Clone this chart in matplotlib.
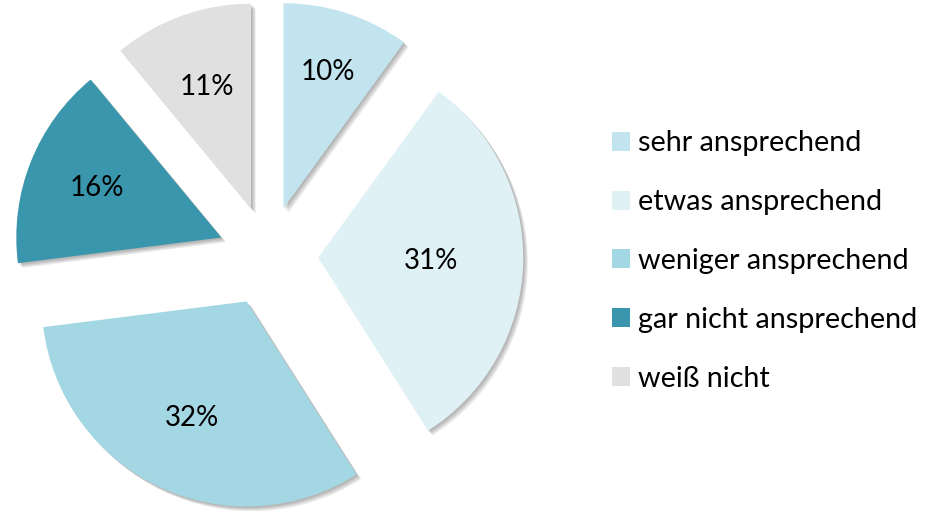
import numpy as np
import matplotlib.pyplot as plt
import matplotlib.patheffects as pe

# Data
labels = ["sehr ansprechend", "etwas ansprechend", "weniger ansprechend",
          "gar nicht ansprechend", "weiß nicht"]
values = [10, 31, 32, 16, 11]
pct_labels = ["10%", "31%", "32%", "16%", "11%"]
colors = ["#C2E4EE", "#E0F1F6", "#A3D7E4", "#3A96AD", "#E0E0E0"]

plt.rcParams["font.family"] = ["Lato", "DejaVu Sans"]

W, H = 930, 512
fig = plt.figure(figsize=(W / 100, H / 100), dpi=100)
ax = fig.add_axes([0, 0, 1, 1])

r_px = 205
cx, cy = 268, 256
wedges, texts = ax.pie(values, colors=colors, startangle=90, counterclock=False,
                       explode=[0.245] * len(values), radius=1,
                       wedgeprops=dict(linewidth=0))

shadow = [pe.SimplePatchShadow(offset=(o, -o), shadow_rgbFace="black", alpha=0.08)
          for o in (1, 1.8, 2.6, 3.4)]
for w in wedges:
    w.set_path_effects(shadow + [pe.Normal()])

# percentage labels inside the slices
dists = [0.70, 0.55, 0.63, 0.65, 0.63]
for w, lab, d in zip(wedges, pct_labels, dists):
    th = np.deg2rad((w.theta1 + w.theta2) / 2)
    x0, y0 = w.center
    ax.text(x0 + d * np.cos(th), y0 + d * np.sin(th), lab, ha="center", va="center",
            fontsize=20, color="black")

ax.set_xlim(-cx / r_px, (W - cx) / r_px)
ax.set_ylim(-(H - cy) / r_px, cy / r_px)
ax.set_aspect("auto")
ax.axis("off")

leg = ax.legend(wedges, labels, loc="center left", bbox_to_anchor=(612 / W, 1 - 261 / H),
                bbox_transform=fig.transFigure, frameon=False, fontsize=20.7,
                handlelength=0.63, handleheight=0.63, handletextpad=0.28,
                labelspacing=1.14, borderaxespad=0, borderpad=0)
for h in leg.legend_handles:
    h.set_path_effects([])

fig.savefig("out.png", dpi=100)
